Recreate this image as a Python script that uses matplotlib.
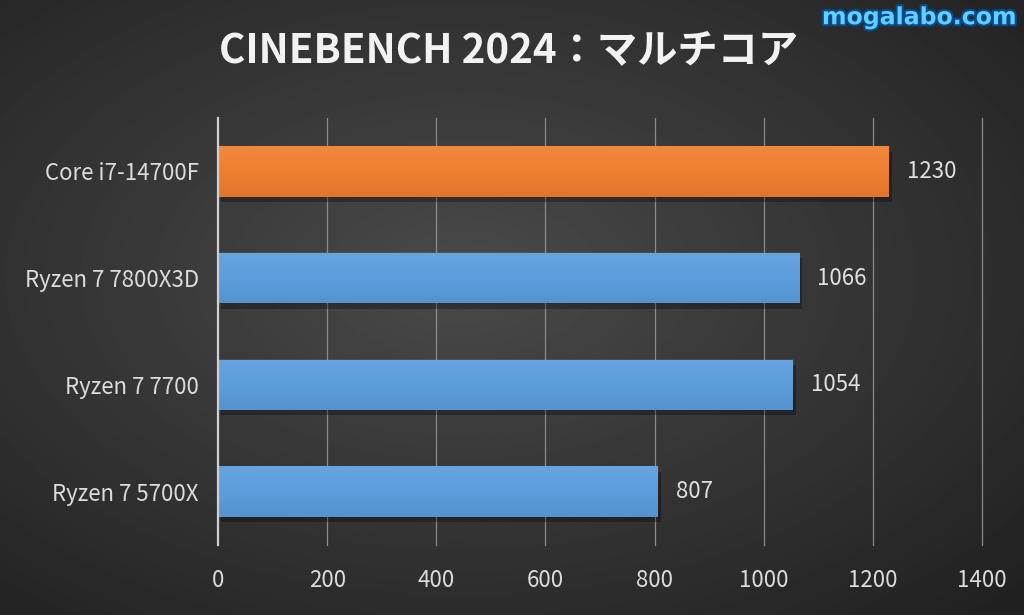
import numpy as np
import matplotlib.pyplot as plt
import matplotlib.patheffects as pe

plt.rcParams['font.family'] = ['Noto Sans CJK JP', 'DejaVu Sans']

# data
cpus = ['Core i7-14700F', 'Ryzen 7 7800X3D', 'Ryzen 7 7700', 'Ryzen 7 5700X']
scores = [1230, 1066, 1054, 807]
colors = ['#EF7F30', '#5B9EDC', '#5B9EDC', '#5B9EDC']
xticks = [0, 200, 400, 600, 800, 1000, 1200, 1400]

fig = plt.figure(figsize=(10.24, 6.15), dpi=100)

# radial gray background
bg = fig.add_axes([0, 0, 1, 1])
yy, xx = np.mgrid[0:1:300j, 0:1:500j]
r = np.sqrt(((xx - 0.45) / 0.8) ** 2 + ((yy - 0.45) / 0.8) ** 2)
bg.imshow(0.29 - 0.17 * r, cmap='gray', vmin=0, vmax=1, aspect='auto', extent=[0, 1, 0, 1])
bg.axis('off')

ax = fig.add_axes([0.213, 0.114, 0.746, 0.694])
ax.patch.set_alpha(0)
ypos = np.arange(len(cpus))

# shadows then bars
ax.barh(ypos + 0.05, scores, height=0.47, left=5, color='black', alpha=0.3, zorder=2)
bars = ax.barh(ypos, scores, height=0.47, color=colors, zorder=3)

# soft vertical shading on each bar (lighter top, darker bottom)
shade = np.zeros((30, 1, 4))
a = np.linspace(1, -1, 30)
shade[:, 0, :3] = np.where(a[:, None] > 0, 1.0, 0.0)
shade[:, 0, 3] = np.abs(a) * 0.07
for b in bars:
    x0, y0 = b.get_x(), b.get_y()
    w, h = b.get_width(), b.get_height()
    ax.imshow(shade, extent=[x0, x0 + w, y0 + h, y0], aspect='auto', zorder=4,
              interpolation='bilinear')

ax.set_xlim(0, 1400)
ax.set_ylim(3.5, -0.5)
ax.set_xticks(xticks)
ax.set_yticks(ypos)
ax.set_yticklabels(cpus)
ax.tick_params(axis='both', length=0, colors='#dcdcdc', labelsize=16)
ax.tick_params(axis='x', pad=17)
ax.tick_params(axis='y', pad=14)
for s in ax.spines.values():
    s.set_visible(False)
for t in xticks[1:]:
    ax.axvline(t, color='#8a8a8a', lw=0.9, zorder=1, clip_on=False)
ax.axvline(0, color='#d0d0d0', lw=1.6, zorder=5, clip_on=False)

for y, v in zip(ypos, scores):
    ax.text(v + 32, y, str(v), va='center', ha='left', color='#e0e0e0', fontsize=16)

fig.text(0.497, 0.918, 'CINEBENCH 2024：マルチコア', ha='center', va='center',
         color='#f2f2f2', fontsize=29, fontweight='bold')

fig.text(0.993, 0.972, 'mogalabo.com', ha='right', va='center', color='#5fd0ff',
         fontsize=17, fontweight='bold', family=['DejaVu Sans'],
         path_effects=[pe.withStroke(linewidth=3, foreground='#0b4a8a')])

fig.savefig('out.png', dpi=100)
